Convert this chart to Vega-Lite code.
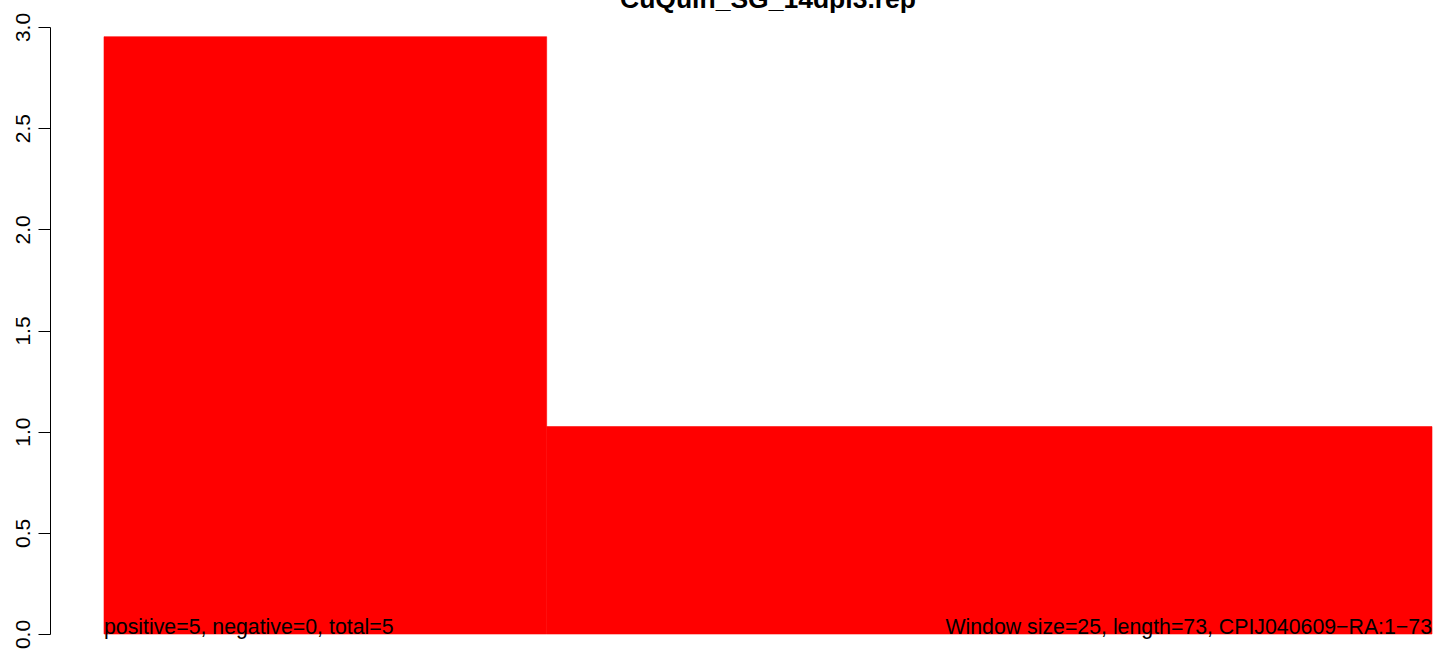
{
  "$schema": "https://vega.github.io/schema/vega-lite/v6.json",
  "width": 1328,
  "height": 607,
  "autosize": {"type": "none"},
  "padding": {"left": 104, "top": 27, "right": 12, "bottom": 22},
  "background": "white",
  "title": {
    "text": "CuQuin_SG_14dpi3.rep",
    "font": "Liberation Sans",
    "fontSize": 26.5,
    "fontWeight": "bold",
    "color": "black",
    "anchor": "middle",
    "baseline": "alphabetic",
    "offset": -22
  },
  "config": {
    "view": {"stroke": null},
    "font": "Liberation Sans"
  },
  "layer": [
    {
      "data": {"values": [
        {"start": 1, "end": 25, "value": 2.952},
        {"start": 25, "end": 73, "value": 1.025}
      ]},
      "mark": {"type": "rect", "color": "#FF0000", "stroke": "#FF0000", "strokeWidth": 0.6},
      "encoding": {
        "x": {"field": "start", "type": "quantitative", "scale": {"domain": [1, 73], "nice": false, "zero": false}, "axis": null},
        "x2": {"field": "end"},
        "y": {"field": "value", "type": "quantitative", "scale": {"domain": [0, 3], "nice": false},
          "axis": {
            "title": null,
            "values": [0, 0.5, 1, 1.5, 2, 2.5, 3],
            "format": ".1f",
            "offset": 54,
            "grid": false,
            "domainColor": "black",
            "domainWidth": 1,
            "tickColor": "black",
            "tickWidth": 1,
            "tickSize": 12,
            "labelAngle": -90,
            "labelAlign": "center",
            "labelBaseline": "alphabetic",
            "labelPadding": 9,
            "labelFont": "Liberation Sans",
            "labelFontSize": 21,
            "labelColor": "black"
          }
        },
        "y2": {"datum": 0}
      }
    },
    {
      "data": {"values": [{"x": 1, "y": 0, "label": "positive=5, negative=0, total=5"}]},
      "mark": {"type": "text", "align": "left", "baseline": "alphabetic", "fontSize": 21.3, "font": "Liberation Sans", "color": "black"},
      "encoding": {
        "x": {"field": "x", "type": "quantitative"},
        "y": {"field": "y", "type": "quantitative"},
        "text": {"field": "label"}
      }
    },
    {
      "data": {"values": [{"x": 73, "y": 0, "label": "Window size=25, length=73, CPIJ040609−RA:1−73"}]},
      "mark": {"type": "text", "align": "right", "baseline": "alphabetic", "fontSize": 21.3, "font": "Liberation Sans", "color": "black"},
      "encoding": {
        "x": {"field": "x", "type": "quantitative"},
        "y": {"field": "y", "type": "quantitative"},
        "text": {"field": "label"}
      }
    }
  ]
}
